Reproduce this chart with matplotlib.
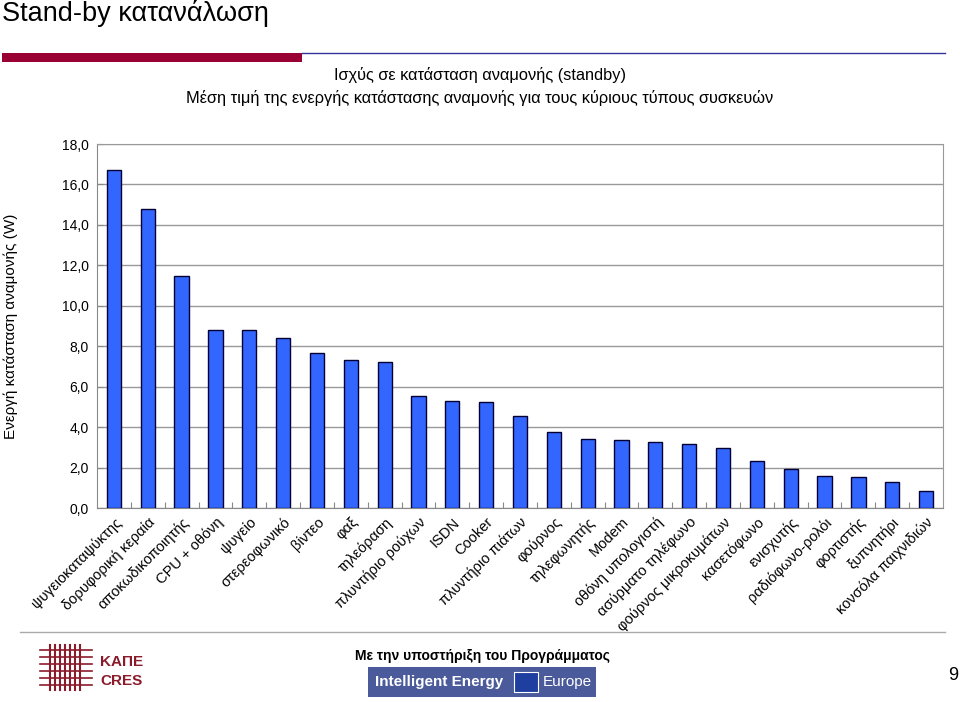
import matplotlib
matplotlib.use("Agg")
import matplotlib.pyplot as plt
from matplotlib.patches import Rectangle
from matplotlib.ticker import FuncFormatter

plt.rcParams['font.family'] = ['Liberation Sans', 'DejaVu Sans']

categories = [
    "ψυγειοκαταψύκτης", "δορυφορική κεραία", "αποκωδικοποιητής", "CPU + οθόνη",
    "ψυγείο", "στερεοφωνικό", "βίντεο", "φαξ", "τηλεόραση", "πλυντήριο ρούχων",
    "ISDN", "Cooker", "πλυντήριο πιάτων", "φούρνος", "τηλεφωνητής", "Modem",
    "οθόνη υπολογιστή", "ασύρματο τηλέφωνο", "φούρνος μικροκυμάτων", "κασετόφωνο",
    "ενισχυτής", "ραδιόφωνο-ρολόι", "φορτιστής", "ξυπνητήρι", "κονσόλα παιχνιδιών",
]
values = [16.7, 14.8, 11.45, 8.82, 8.8, 8.4, 7.68, 7.3, 7.22, 5.54,
          5.28, 5.24, 4.55, 3.77, 3.41, 3.35, 3.25, 3.18, 2.95, 2.31,
          1.91, 1.6, 1.55, 1.27, 0.84]
yticks = [0, 2, 4, 6, 8, 10, 12, 14, 16, 18]

W, H = 960, 702
fig = plt.figure(figsize=(W / 100, H / 100), dpi=100)

# plot area in pixels: x 97..943, y 144..508
ax = fig.add_axes([97 / W, 1 - 508 / H, (943 - 97) / W, (508 - 144) / H])
x = list(range(len(categories)))
ax.bar(x, values, width=0.42, color="#3366FF", edgecolor="#000033", linewidth=1.0, zorder=3)
ax.set_xlim(-0.5, len(categories) - 0.5)
ax.set_ylim(0, 18)
ax.set_yticks(yticks)
ax.yaxis.set_major_formatter(FuncFormatter(lambda v, p: f"{v:.1f}".replace(".", ",")))
ax.grid(axis="y", color="#999999", linewidth=1.0, zorder=0)
ax.set_xticks([i + 0.5 for i in range(len(categories) - 1)], minor=False)
ax.set_xticklabels([])
ax.set_xticks(x, minor=True)
ax.set_xticklabels(categories, minor=True, rotation=45, ha="right", va="top",
                   rotation_mode="anchor", fontsize=10.5)
ax.tick_params(axis="x", which="minor", length=0, pad=5)
ax.tick_params(axis="x", which="major", length=4, direction="in", color="#888888")
ax.tick_params(axis="y", length=4, direction="in", color="#888888", labelsize=10, pad=6)
for s in ["top", "right"]:
    ax.spines[s].set_color("#999999")
for s in ["left", "bottom"]:
    ax.spines[s].set_color("#888888")

fig.text(11 / W, 1 - 326 / H, "Ενεργή κατάσταση αναμονής (W)", fontsize=11,
         rotation=90, ha="center", va="center")

# Slide title and decoration
fig.text(2 / W, 1 - 13 / H, "Stand-by κατανάλωση", fontsize=19.5, va="center", ha="left")
fig.add_artist(Rectangle((2 / W, 1 - 62 / H), 300 / W, 9 / H, transform=fig.transFigure,
                         color="#990033", lw=0))
fig.add_artist(plt.Line2D([302 / W, 945 / W], [1 - 53 / H, 1 - 53 / H],
                          transform=fig.transFigure, color="#333399", lw=1))

fig.text(480 / W, 1 - 75 / H, "Ισχύς σε κατάσταση αναμονής (standby)", fontsize=11.8,
         ha="center", va="center")
fig.text(480 / W, 1 - 98 / H,
         "Μέση τιμή της ενεργής κατάστασης αναμονής για τους κύριους τύπους συσκευών",
         fontsize=11.8, ha="center", va="center")

# Footer
fig.add_artist(plt.Line2D([20 / W, 945 / W], [1 - 632 / H, 1 - 632 / H],
                          transform=fig.transFigure, color="#aaaaaa", lw=1))
fig.text(482 / W, 1 - 656 / H, "Με την υποστήριξη του Προγράμματος", fontsize=10,
         fontweight="bold", ha="center", va="center")
fig.add_artist(Rectangle((368 / W, 1 - 697 / H), 228 / W, 30 / H, transform=fig.transFigure,
                         color="#4a5a9a", lw=0))
fig.text(375 / W, 1 - 682 / H, "Intelligent Energy", fontsize=11, fontweight="bold",
         color="white", ha="left", va="center")
fig.add_artist(Rectangle((514 / W, 1 - 692 / H), 24 / W, 20 / H, transform=fig.transFigure,
                         facecolor="#1f3fa0", edgecolor="white", lw=0.8))
fig.text(543 / W, 1 - 682 / H, "Europe", fontsize=11, color="white", ha="left", va="center")

# logo approximation
for i in range(7):
    xx = 50 + i * 5
    fig.add_artist(plt.Line2D([xx / W, xx / W], [1 - 690 / H, 1 - 645 / H],
                              transform=fig.transFigure, color="#8b1a2b", lw=1.5))
for i in range(6):
    yy = 650 + i * 7
    fig.add_artist(plt.Line2D([40 / W, 92 / W], [1 - yy / H, 1 - yy / H],
                              transform=fig.transFigure, color="#8b1a2b", lw=1.2))
fig.text(100 / W, 1 - 662 / H, "ΚΑΠΕ", fontsize=11, fontweight="bold", color="#8b1a2b",
         ha="left", va="center")
fig.text(100 / W, 1 - 681 / H, "CRES", fontsize=11, fontweight="bold", color="#8b1a2b",
         ha="left", va="center")

fig.text(953 / W, 1 - 676 / H, "9", fontsize=13, ha="center", va="center")

fig.savefig("out.png", dpi=100)
